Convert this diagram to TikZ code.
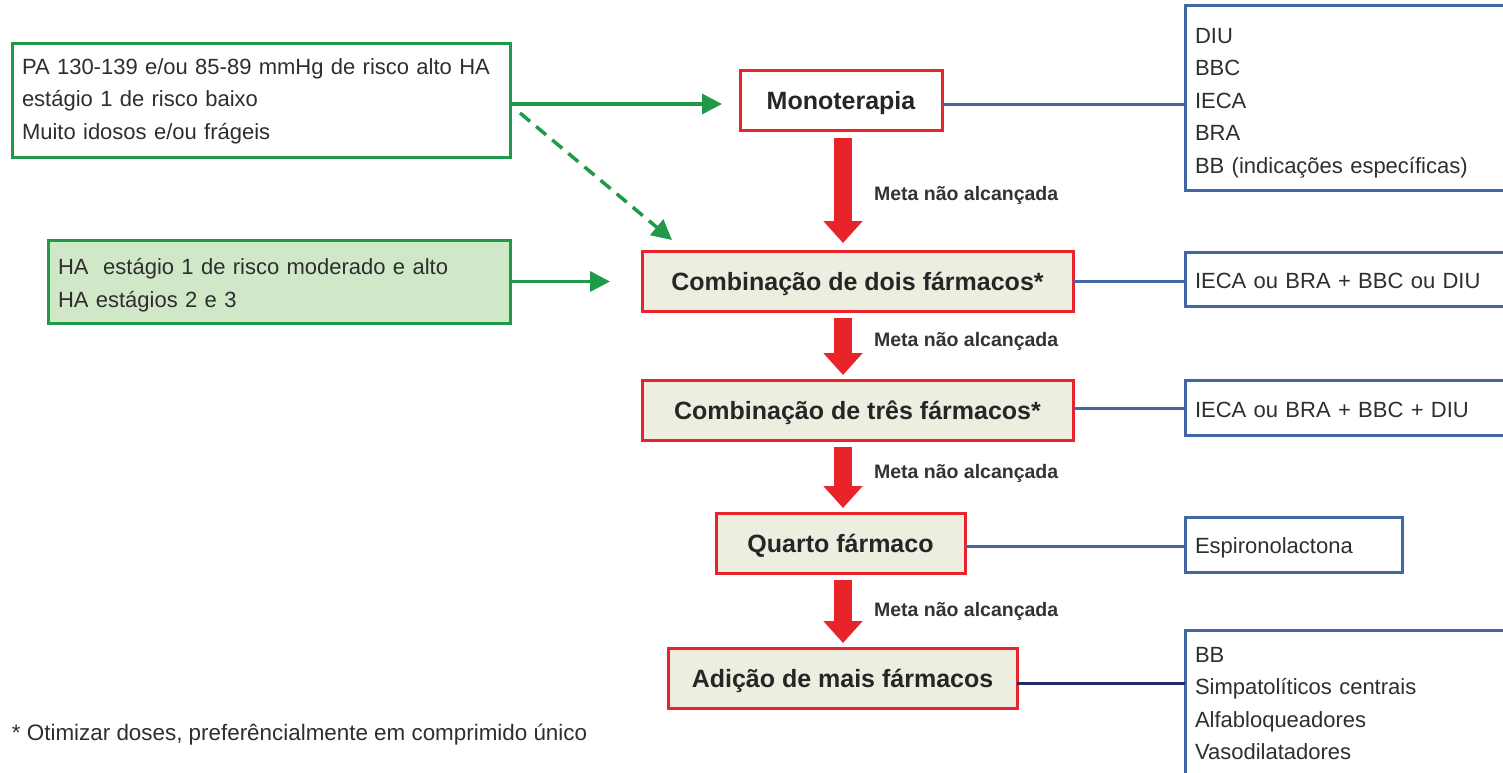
\documentclass[tikz,border=0pt]{standalone}
\usepackage{fontspec}
\setmainfont{Liberation Sans}
\usetikzlibrary{arrows.meta}
\definecolor{gr}{HTML}{1E9A48}
\definecolor{grfill}{HTML}{D0E8C8}
\definecolor{rd}{HTML}{E8232A}
\definecolor{beige}{HTML}{EDEDE0}
\definecolor{bl}{HTML}{4267A3}
\definecolor{navy}{HTML}{1F2D6B}
\definecolor{txt}{HTML}{2E2E2E}
\newcommand{\topstrut}[1]{\rule{0pt}{#1}}
\begin{document}
\begin{tikzpicture}[x=1pt,y=-1pt,
  every node/.style={inner sep=0pt,outer sep=0pt},
  regtext/.style={font=\fontsize{22}{32.5}\selectfont,text=txt},
  greenbox/.style={rectangle,draw=gr,line width=3pt,regtext,align=left,inner xsep=10pt},
  redbox/.style={rectangle,draw=rd,line width=3pt,fill=beige,font=\fontsize{25}{30}\selectfont\bfseries,text=black!85,minimum height=60pt,text height=18pt,text depth=0pt},
  bluebox/.style={rectangle,draw=bl,line width=3pt,fill=white,regtext,align=left,inner xsep=10pt},
  greenarrow/.style={draw=gr,line width=3.5pt,-{Triangle[length=20pt,width=20pt]}},
  redarrow/.style={draw=rd,line width=18pt,-{Triangle[length=22pt,width=38pt]}},
  blueline/.style={draw=bl,line width=3pt},
  metalabel/.style={anchor=west,font=\fontsize{19.5}{22}\selectfont\bfseries,text=black!80}
]
\useasboundingbox (0,0) rectangle (1503,772);
\fill[white] (0,0) rectangle (1503,772);
\clip (0,0) rectangle (1503,772);

% left boxes
\node[greenbox,fill=white,text width=478pt,minimum height=114pt] (a) at (261,100)
  {\topstrut{18pt}PA 130-139 e/ou 85-89 mmHg de risco alto HA\\estágio 1 de risco baixo\\Muito idosos e/ou frágeis};
\node[greenbox,fill=grfill,text width=442pt,minimum height=83pt] (b) at (279,281.5)
  {\topstrut{24pt}HA\ \ estágio 1 de risco moderado e alto\\HA estágios 2 e 3};

% central boxes
\node[redbox,fill=white,minimum width=202pt] (mono) at (841,100) {Monoterapia};
\node[redbox,minimum width=431pt] (dois) at (857.5,281) {Combinação de dois fármacos*};
\node[redbox,minimum width=431pt] (tres) at (857.5,410) {Combinação de três fármacos*};
\node[redbox,minimum width=249pt] (quarto) at (840.5,543) {Quarto fármaco};
\node[redbox,minimum width=349pt] (adicao) at (842.5,678) {Adição de mais fármacos};

% right boxes
\node[bluebox,text width=325pt,minimum height=185pt] (r1) at (1357.5,97.5)
  {\topstrut{26pt}DIU\\BBC\\IECA\\BRA\\BB (indicações específicas)};
\node[bluebox,text width=325pt,minimum height=54pt] (r2) at (1357.5,279) {\topstrut{20pt}IECA ou BRA + BBC ou DIU};
\node[bluebox,text width=325pt,minimum height=55pt] (r3) at (1357.5,407.5) {\topstrut{20pt}IECA ou BRA + BBC + DIU};
\node[bluebox,text width=197pt,minimum height=55pt] (r4) at (1293.5,544.5) {\topstrut{22pt}Espironolactona};
\node[bluebox,text width=325pt,minimum height=147pt] (r5) at (1357.5,703.5)
  {BB\\Simpatolíticos centrais\\Alfabloqueadores\\Vasodilatadores};

% green arrows
\draw[greenarrow,shorten >=18pt] ([yshift=-4pt]a.east) -- ([yshift=-4pt]a.east -| mono.west);
\draw[greenarrow,shorten >=32pt] (b.east) -- (b.east -| dois.west);
\draw[greenarrow,dash pattern=on 13pt off 8pt] ([shift={(10pt,-13pt)}]a.east) -- ([shift={(30pt,11pt)}]dois.north west);

% red arrows
\draw[redarrow,shorten <=8pt,shorten >=8pt] ([xshift=2pt]mono.south) -- ([xshift=2pt]mono.south |- dois.north);
\draw[redarrow,shorten <=7pt,shorten >=5pt] ([xshift=2pt]mono.south |- dois.south) -- ([xshift=2pt]mono.south |- tres.north);
\draw[redarrow,shorten <=7pt,shorten >=5pt] ([xshift=2pt]mono.south |- tres.south) -- ([xshift=2pt]mono.south |- quarto.north);
\draw[redarrow,shorten <=7pt,shorten >=5pt] ([xshift=2pt]mono.south |- quarto.south) -- ([xshift=2pt]mono.south |- adicao.north);

\node[metalabel] (m1) at (874,195) {Meta não alcançada};
\node[metalabel] (m2) at (874,341) {Meta não alcançada};
\node[metalabel] (m3) at (874,473) {Meta não alcançada};
\node[metalabel] (m4) at (874,611) {Meta não alcançada};

% blue connectors
\draw[blueline] ([yshift=-4pt]mono.east) -- ([yshift=-4pt]mono.east -| r1.west);
\draw[blueline] (dois.east) -- (dois.east -| r2.west);
\draw[blueline] ([yshift=2pt]tres.east) -- ([yshift=2pt]tres.east -| r3.west);
\draw[blueline] ([yshift=-3pt]quarto.east) -- ([yshift=-3pt]quarto.east -| r4.west);
\draw[blueline,draw=navy] ([yshift=-5pt]adicao.east) -- ([yshift=-5pt]adicao.east -| r5.west);

% footnote
\node[regtext,font=\fontsize{22.4}{30}\selectfont,anchor=west] (fn) at (12,735) {* Otimizar doses, preferêncialmente em comprimido único};
\end{tikzpicture}
\end{document}
